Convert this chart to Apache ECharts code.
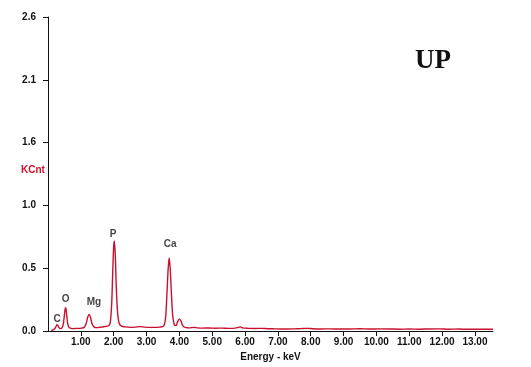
<!DOCTYPE html>
<html>
<head>
<meta charset="utf-8">
<script src="https://cdn.jsdelivr.net/npm/echarts@6/dist/echarts.min.js"></script>
<style>
  html, body { margin: 0; padding: 0; background: #fff; }
  #chart { width: 531px; height: 367px; }
</style>
</head>
<body>
<div id="chart"></div>
<script>
// EDS spectrum: energy (keV) vs counts (KCnt)
const energy = [
  0.10, 0.16, 0.20, 0.24, 0.27, 0.30, 0.34, 0.38, 0.42, 0.46,
  0.49, 0.52, 0.54, 0.57, 0.60, 0.64, 0.70, 0.78, 0.86, 0.94,
  1.02, 1.10, 1.16, 1.21, 1.25, 1.29, 1.34, 1.40, 1.48, 1.56,
  1.64, 1.72, 1.80, 1.86, 1.90, 1.94, 1.97, 2.00, 2.02, 2.05,
  2.08, 2.12, 2.17, 2.24, 2.35, 2.50, 2.65, 2.80, 2.95, 3.10,
  3.25, 3.40, 3.52, 3.58, 3.62, 3.66, 3.69, 3.72, 3.76, 3.80,
  3.85, 3.90, 3.95, 4.00, 4.05, 4.10, 4.18, 4.30, 4.45, 4.55,
  4.70, 4.90, 5.10, 5.30, 5.50, 5.70, 5.80, 5.86, 5.92, 6.10,
  6.30, 6.50, 6.70, 6.90, 7.10, 7.30, 7.50, 7.70, 7.90, 8.05,
  8.30, 8.60, 8.90, 9.20, 9.50, 9.80, 10.10, 10.40, 10.70, 11.00,
  11.30, 11.60, 11.90, 12.20, 12.50, 12.80, 13.10, 13.40, 13.55
];
const kcnt = [
  0.004, 0.010, 0.018, 0.034, 0.052, 0.046, 0.026, 0.020, 0.024, 0.050,
  0.110, 0.180, 0.192, 0.130, 0.060, 0.030, 0.022, 0.020, 0.022, 0.021,
  0.024, 0.030, 0.060, 0.115, 0.138, 0.118, 0.060, 0.034, 0.028, 0.030,
  0.032, 0.036, 0.040, 0.046, 0.080, 0.230, 0.480, 0.700, 0.745, 0.620,
  0.360, 0.150, 0.060, 0.040, 0.034, 0.030, 0.032, 0.036, 0.032, 0.030,
  0.030, 0.032, 0.040, 0.110, 0.300, 0.520, 0.605, 0.520, 0.300, 0.120,
  0.050, 0.045, 0.080, 0.100, 0.082, 0.045, 0.030, 0.026, 0.030, 0.026,
  0.024, 0.025, 0.023, 0.024, 0.022, 0.024, 0.030, 0.034, 0.026, 0.022,
  0.021, 0.022, 0.019, 0.018, 0.017, 0.017, 0.018, 0.020, 0.022, 0.019,
  0.017, 0.018, 0.016, 0.017, 0.019, 0.016, 0.018, 0.017, 0.015, 0.016,
  0.015, 0.017, 0.018, 0.015, 0.016, 0.014, 0.015, 0.014, 0.014
];

// Element labels placed above their peaks
const peakNames   = ['C', 'O', 'Mg', 'P', 'Ca'];
const peakEnergy  = [0.28, 0.54, 1.40, 1.98, 3.72];
const peakLabelAt = [0.10, 0.26, 0.24, 0.80, 0.72];

// Axis ticks and their printed labels
const xTicks = [1, 2, 3, 4, 5, 6, 7, 8, 9, 10, 11, 12, 13];
const yTicks = [0, 0.52, 1.04, 1.56, 2.08, 2.6];
const yTickLabels = ['0.0', '0.5', '1.0', '1.6', '2.1', '2.6'];

const FONT = '"Liberation Sans", Arial, sans-serif';
const TEXT = '#111';
const lineColor = '#c8102e';

const chart = echarts.init(document.getElementById('chart'), null, { renderer: 'canvas' });

chart.setOption({
  animation: false,
  backgroundColor: '#ffffff',
  grid: { left: 48, right: 38, top: 17, bottom: 36 },
  xAxis: {
    type: 'value',
    min: 0,
    max: 13.55,
    axisLine: { show: true, onZero: false, lineStyle: { color: '#111', width: 1 } },
    axisTick: { show: true, length: 5, customValues: xTicks, lineStyle: { color: '#111' } },
    axisLabel: {
      customValues: xTicks,
      margin: 6,
      fontFamily: FONT, fontWeight: 'bold', fontSize: 10, color: TEXT,
      formatter: v => v.toFixed(2)
    },
    splitLine: { show: false },
    name: 'Energy - keV',
    nameLocation: 'middle',
    nameGap: 19,
    nameTextStyle: { fontFamily: FONT, fontWeight: 'bold', fontSize: 10, color: TEXT, verticalAlign: 'top' }
  },
  yAxis: {
    type: 'value',
    min: 0,
    max: 2.6,
    axisLine: { show: true, lineStyle: { color: '#111', width: 1 } },
    axisTick: { show: true, length: 5, customValues: yTicks, lineStyle: { color: '#111' } },
    axisLabel: {
      customValues: yTicks,
      margin: 12,
      fontFamily: FONT, fontWeight: 'bold', fontSize: 10, color: TEXT,
      formatter: v => yTickLabels[yTicks.indexOf(v)] ?? v.toFixed(1)
    },
    splitLine: { show: false }
  },
  graphic: [
    {
      type: 'text', left: 21, top: 165,
      style: { text: 'KCnt', font: 'bold 10px ' + FONT, fill: '#d0102a' }
    },
    {
      type: 'text', left: 415, top: 48,
      style: { text: 'UP', font: 'bold 27px "Liberation Serif", "Times New Roman", serif', fill: '#111' }
    }
  ],
  series: [
    {
      type: 'line',
      data: energy.map((e, i) => [e, kcnt[i]]),
      showSymbol: false,
      smooth: 0.3,
      lineStyle: { color: lineColor, width: 1.4 },
      z: 3
    },
    {
      type: 'scatter',
      data: peakNames.map((n, i) => ({ name: n, value: [peakEnergy[i], peakLabelAt[i]] })),
      symbolSize: 0,
      silent: true,
      label: {
        show: true,
        position: 'inside',
        formatter: p => p.name,
        fontFamily: FONT, fontWeight: 'bold', fontSize: 10, color: TEXT
      },
      z: 4
    }
  ]
});
</script>
</body>
</html>
